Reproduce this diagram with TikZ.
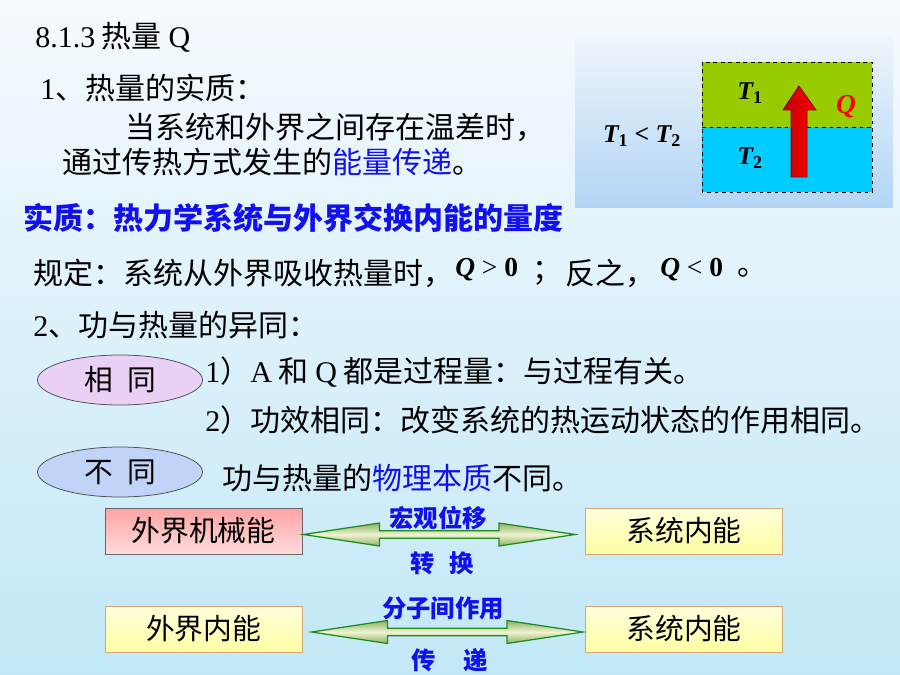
\documentclass[tikz,border=0pt]{standalone}
\usepackage{fontspec}
\setmainfont{Liberation Serif}
\newfontfamily\cjk{Noto Sans CJK SC}
\usetikzlibrary{shapes.geometric,calc,positioning}

\definecolor{bgtop}{HTML}{F6FAFE}
\definecolor{bgbot}{HTML}{C2E8F7}
\definecolor{insettop}{HTML}{EEF5FC}
\definecolor{insetbot}{HTML}{B2D5F5}
\definecolor{keyblue}{HTML}{1010F0}
\definecolor{warm}{HTML}{99CC00}
\definecolor{cool}{HTML}{00CCFF}
\definecolor{samefill}{HTML}{EBD0F5}
\definecolor{difffill}{HTML}{C0D4F8}
\definecolor{arrline}{HTML}{1E8C1E}
\definecolor{arrdark}{HTML}{8FB060}
\definecolor{arrpale}{HTML}{EEF4D2}

\tikzset{
	body/.style={anchor=west, inner sep=0pt, font=\cjk\fontsize{24}{28}\selectfont},
	sign/.style={anchor=west, inner sep=0pt, font=\rmfamily\fontsize{22}{26}\selectfont},
	tag/.style={ellipse, draw=black!70, line width=0.6pt, minimum width=132pt, minimum height=40pt, inner sep=0pt, font=\cjk\fontsize{23}{28}\selectfont},
	ebox/.style={rectangle, draw=#1, line width=0.8pt, minimum width=157.6pt, minimum height=36.8pt, inner sep=0pt, font=\cjk\fontsize{23}{28}\selectfont},
	dblarr/.style={draw=arrline, line width=1pt, top color=arrdark, bottom color=arrdark, middle color=arrpale},
	lbl/.style={inner sep=0pt, text=keyblue, font=\cjk\bfseries\fontsize{19.5}{24}\selectfont},
	temp/.style={inner sep=0pt, font=\rmfamily\bfseries\itshape\fontsize{20.5}{24}\selectfont}
}

% two-headed arrow between two tips
\newcommand\twoway[2]{%
	\path[dblarr] let \p1=(#1), \p2=(#2) in
		(\x1,\y1) -- (\x1+60.8pt,\y1+9.2pt) -- (\x1+60.8pt,\y1+3pt) -- (\x2-60.8pt,\y1+3pt)
		-- (\x2-60.8pt,\y1+9.2pt) -- (\x2,\y1) -- (\x2-60.8pt,\y1-9.2pt) -- (\x2-60.8pt,\y1-3pt)
		-- (\x1+60.8pt,\y1-3pt) -- (\x1+60.8pt,\y1-9.2pt) -- cycle;}
\newcommand\sub[1]{\textsubscript{\upshape #1}}

\begin{document}
\begin{tikzpicture}[x=0.8pt,y=-0.8pt]
	\useasboundingbox (0,0) rectangle (900,675);
	\shade[top color=bgtop, bottom color=bgbot] (0,0) rectangle (900,675);

	% heading and definition
	\node[body] (title)	at (35,37)	{{\rmfamily 8.1.3} 热量 {\rmfamily Q}};
	\node[body] (item1)	at (40,88)	{{\rmfamily 1}、热量的实质：};
	\node[body] (def1)	at (125,127)	{当系统和外界之间存在温差时，};
	\node[body] (def2)	at (62,162)	{通过传热方式发生的\textcolor{keyblue}{能量传递}。};
	\node[body, text=keyblue, font=\cjk\bfseries\fontsize{24}{28}\selectfont] (gist) at (23,218) {实质：热力学系统与外界交换内能的量度};

	% sign rule
	\node[body] (rule)	at (33,273)	{规定：系统从外界吸收热量时，};
	\node[sign] (qpos)	at (455,270)	{{\bfseries\itshape Q} > {\bfseries 0}};
	\node[body] (semi)	at (532,273)	{；};
	\node[body] (conv)	at (565,273)	{反之，};
	\node[sign] (qneg)	at (660,270)	{{\bfseries\itshape Q} < {\bfseries 0}};
	\node[body] (stop)	at (737,273)	{。};

	% same and different
	\node[body] (item2)	at (33,325)	{{\rmfamily 2}、功与热量的异同：};
	\node[tag, fill=samefill] (same) at (120,380) {相\hspace{0.5em}同};
	\node[tag, fill=difffill] (diff) at (120,472) {不\hspace{0.5em}同};
	\node[body] (same1)	at (205,372)	{{\rmfamily 1}）{\rmfamily A} 和 {\rmfamily Q} 都是过程量：与过程有关。};
	\node[body] (same2)	at (205,420)	{{\rmfamily 2}）功效相同：改变系统的热运动状态的作用相同。};
	\node[body] (diff1)	at (222,478)	{功与热量的\textcolor{keyblue}{物理本质}不同。};

	% energy boxes
	\node[ebox=black!60, top color=red!36, bottom color=red!14] (mech) at (203.5,531) {外界机械能};
	\node[ebox=brown!70, top color=yellow!14, bottom color=yellow!36] (sysa) at (684,531) {系统内能};
	\node[ebox=brown!70, top color=yellow!14, bottom color=yellow!36] (outer) at (203.5,629) {外界内能};
	\node[ebox=brown!70, top color=yellow!14, bottom color=yellow!36] (sysb) at (684,629) {系统内能};

	\coordinate (t1) at ([shift={(1,3.5)}]mech.east);
	\coordinate (t2) at ([shift={(-10,3.5)}]sysa.west);
	\coordinate (t3) at ([shift={(9,3)}]outer.east);
	\coordinate (t4) at ([shift={(-2,3)}]sysb.west);
	\twoway{t1}{t2}
	\twoway{t3}{t4}

	\node[lbl] (work)	at (438,518)	{宏观位移};
	\node[lbl] (swap)	at (442,563)	{转\hspace{0.6em}换};
	\node[lbl] (mol)	at (443,608)	{分子间作用};
	\node[lbl] (pass)	at (450,660)	{传\hspace{1.15em}递};

	% inset: heat flows from T2 to T1
	\shade[top color=insettop, bottom color=insetbot] (575,37) rectangle (893,208);
	\fill[warm] (702,62) rectangle (872,127);
	\fill[cool] (702,127) rectangle (872,192);
	\draw[dashed, line width=0.6pt] (702,62) rectangle (872,192) (702,127) -- (872,127);
	\node[temp] (cmp)	at (642,136)	{T\sub{1} < T\sub{2}};
	\node[temp] (hot)	at (750,93)	{T\sub{1}};
	\node[temp] (cold)	at (750,158)	{T\sub{2}};
	\shade[left color=red!75!black, right color=red, draw=red!50!black, line width=0.6pt]
		(799,86) -- (816,110) -- (807,110) -- (807,177) -- (791,177) -- (791,110) -- (783,110) -- cycle;
	\node[temp, text=red, font=\rmfamily\bfseries\itshape\fontsize{22}{26}\selectfont] (heat) at (846,107) {Q};
\end{tikzpicture}
\end{document}
